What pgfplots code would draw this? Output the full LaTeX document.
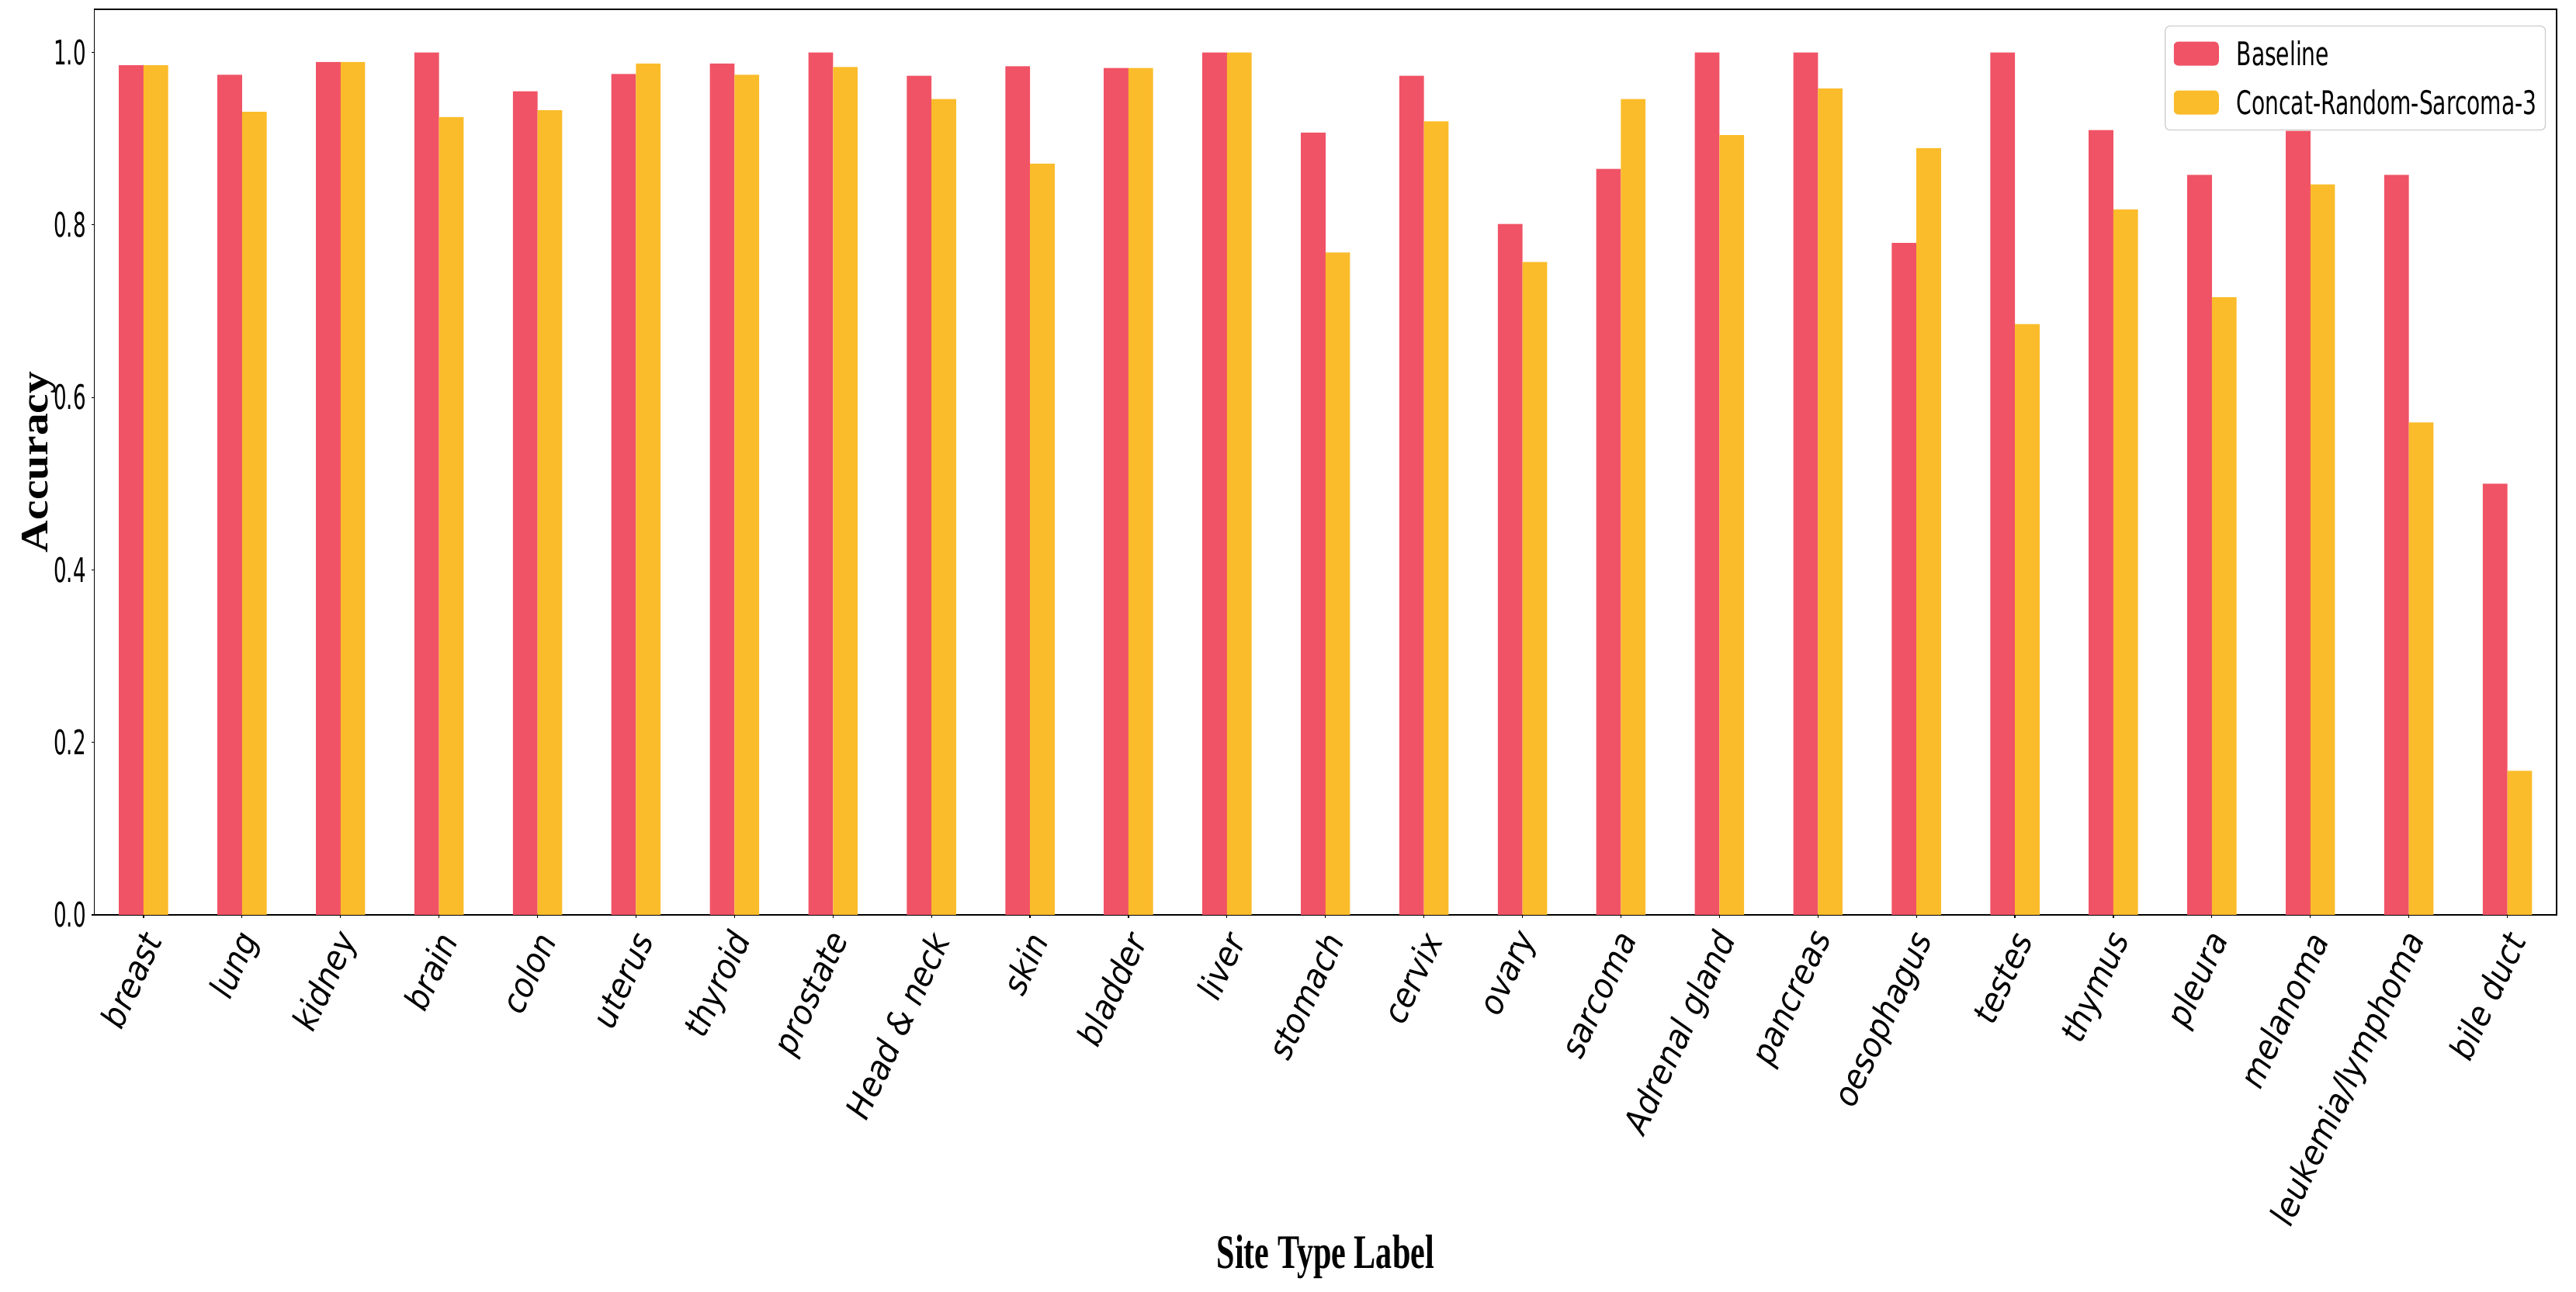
\documentclass[border=0pt]{standalone}
\usepackage{fontspec}
\usepackage{pgfplots}
\usepackage{pgfplotstable}
\pgfplotsset{compat=1.18}
\setmainfont{DejaVu Sans}
\newfontfamily\tickfam[FakeStretch=0.6]{DejaVu Sans}
\newfontfamily\legfam[FakeStretch=0.67]{DejaVu Sans}
\newfontfamily\xtickfam[FakeStretch=0.92]{DejaVu Sans}
\newfontfamily\xlabfam[FakeStretch=0.68]{Liberation Serif}
\newfontfamily\ylabfam[FakeStretch=1.15]{Liberation Serif}
\definecolor{baseline}{HTML}{F05365}
\definecolor{concat}{HTML}{FABC2A}
\definecolor{legframe}{HTML}{CCCCCC}

% accuracy per site type
\pgfplotstableread{
idx base concat
0 0.985 0.985
1 0.974 0.931
2 0.989 0.989
3 1.000 0.925
4 0.955 0.933
5 0.975 0.987
6 0.987 0.974
7 1.000 0.983
8 0.973 0.946
9 0.984 0.871
10 0.982 0.982
11 1.000 1.000
12 0.907 0.768
13 0.973 0.920
14 0.801 0.757
15 0.865 0.946
16 1.000 0.904
17 1.000 0.958
18 0.779 0.889
19 1.000 0.685
20 0.910 0.818
21 0.858 0.716
22 0.909 0.847
23 0.858 0.571
24 0.500 0.167
}\accdata

\begin{document}
\begin{tikzpicture}
\useasboundingbox (-30.375pt,-121.5pt) rectangle (799.375pt,294.75pt);
\begin{axis}[
  at={(0pt,0pt)}, anchor=south west,
  scale only axis, width=793.125pt, height=291.75pt,
  ybar, bar width=0.25,
  xmin=-0.5, xmax=24.5, ymin=0, ymax=1.05,
  xtick={0,...,24},
  xticklabels={breast,lung,kidney,brain,colon,uterus,thyroid,prostate,Head \& neck,skin,bladder,liver,stomach,cervix,ovary,sarcoma,Adrenal gland,pancreas,oesophagus,testes,thymus,pleura,melanoma,leukemia/lymphoma,bile duct},
  ytick={0,0.2,0.4,0.6,0.8,1.0},
  tick pos=left, tick align=outside,
  major tick length=0.9pt,
  tick style={black, line width=0.3pt},
  axis line style={black, line width=0.3pt},
  /pgf/number format/assume math mode=true,
  yticklabel style={font=\tickfam\fontsize{10.9}{12}\selectfont, inner sep=0pt, xshift=-1.6pt,
    /pgf/number format/.cd, fixed, fixed zerofill, precision=1, /tikz/.cd},
  xticklabel style={xshift=2.75pt, yshift=-5.5pt, rotate=65, anchor=east, inner sep=0pt,
    font=\xtickfam\itshape\fontsize{10.9}{12}\selectfont},
  xlabel={Site Type Label},
  xlabel style={at={(axis description cs:0.5,-0.39)}, anchor=base,
    font=\xlabfam\bfseries\fontsize{15.5}{17}\selectfont},
  ylabel={Accuracy},
  ylabel style={at={(axis description cs:-0.0225,0.5)}, anchor=center, rotate=0,
    font=\ylabfam\bfseries\fontsize{12.5}{14}\selectfont},
  legend cell align=left,
  legend image code/.code={\fill[#1] (0pt,-3.875pt) rectangle (14.5pt,3.875pt); \path (20.25pt,0pt);},
  legend style={at={(axis description cs:0.9956,0.982)}, anchor=north east,
    draw=legframe, line width=0.3pt, rounded corners=1.5pt, fill=white,
    inner xsep=2.75pt, inner ysep=5pt, row sep=8pt,
    nodes={inner sep=0pt, text height=7.75pt, text depth=0pt},
    font=\legfam\fontsize{10.5}{12}\selectfont},
]
\addplot[fill=baseline, draw=none, bar shift=-0.125] table[x=idx, y=base] {\accdata};
\addplot[fill=concat, draw=none, bar shift=0.125] table[x=idx, y=concat] {\accdata};
\legend{Baseline, Concat-Random-Sarcoma-3}
\end{axis}
\end{tikzpicture}
\end{document}
